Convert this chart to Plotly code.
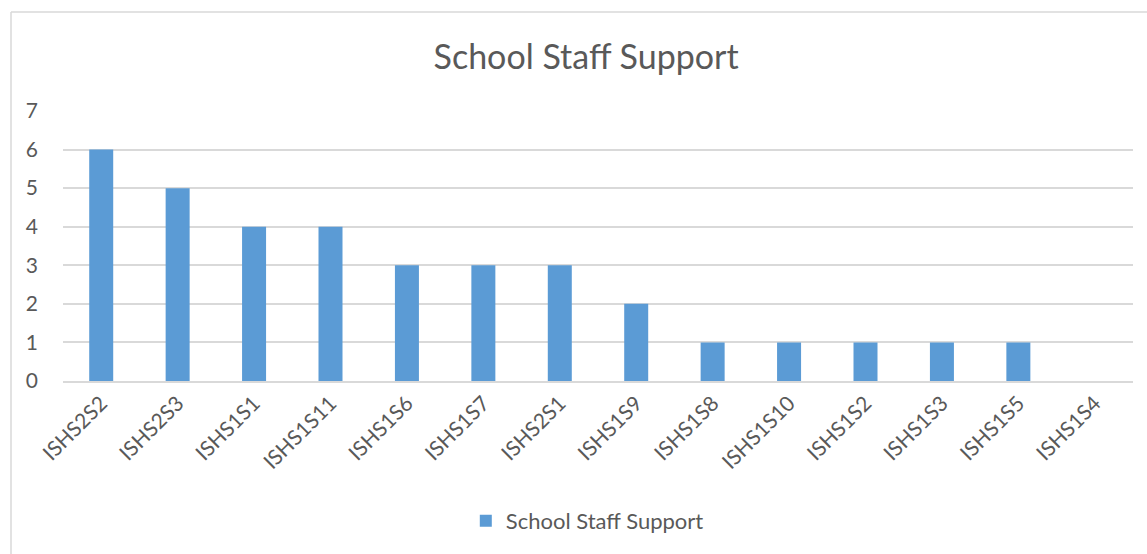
import plotly.graph_objects as go

categories = ["ISHS2S2", "ISHS2S3", "ISHS1S1", "ISHS1S11", "ISHS1S6", "ISHS1S7", "ISHS2S1",
              "ISHS1S9", "ISHS1S8", "ISHS1S10", "ISHS1S2", "ISHS1S3", "ISHS1S5", "ISHS1S4"]
support_counts = [6, 5, 4, 4, 3, 3, 3, 2, 1, 1, 1, 1, 1, 0]
series_name = "School Staff Support"

text_color = "#595959"
grid_color = "#d9d9d9"
bar_color = "#5b9bd5"
font_family = "Lato, 'Open Sans', sans-serif"

fig = go.Figure()
fig.add_trace(go.Bar(
    x=categories,
    y=support_counts,
    name=series_name,
    marker=dict(color=bar_color, line=dict(width=0)),
    showlegend=True,
))

fig.update_layout(
    width=1147,
    height=554,
    margin=dict(l=63, r=14, t=111, b=173),
    paper_bgcolor="white",
    plot_bgcolor="white",
    font=dict(family=font_family, color=text_color, size=20),
    title=dict(text="School Staff Support", x=0.511, xanchor="center",
               y=1 - 57 / 554, yanchor="middle",
               font=dict(size=34, color=text_color, family=font_family)),
    bargap=0.686,
    legend=dict(orientation="h", x=0.49, xanchor="center", y=-0.518, yanchor="middle",
                font=dict(size=22, color=text_color)),
    shapes=[
        dict(type="line", xref="paper", yref="paper", x0=-0.0486, x1=1.1, y0=1.3667, y1=1.3667,
             line=dict(color=grid_color, width=1.5)),
        dict(type="line", xref="paper", yref="paper", x0=-0.0486, x1=-0.0486, y0=-0.8, y1=1.3667,
             line=dict(color=grid_color, width=1.5)),
    ],
)

fig.update_xaxes(
    tickangle=-45,
    showgrid=False,
    showline=True,
    linecolor=grid_color,
    linewidth=1.5,
    ticks="",
    tickfont=dict(size=21, color=text_color),
)
fig.update_yaxes(
    range=[0, 7],
    dtick=1,
    showgrid=True,
    gridcolor=grid_color,
    gridwidth=1.5,
    zeroline=False,
    showline=False,
    ticks="",
    ticklabelstandoff=24,
    tickfont=dict(size=21, color=text_color),
)

fig.write_html("out.html")
